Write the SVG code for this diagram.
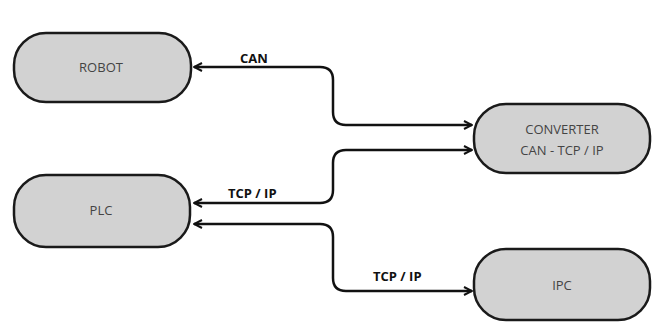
<svg xmlns="http://www.w3.org/2000/svg" width="660" height="332" viewBox="0 0 660 332">
<defs>
<marker id="ah" viewBox="0 0 10 10" refX="9" refY="5" markerWidth="10" markerHeight="10" markerUnits="userSpaceOnUse" orient="auto-start-reverse">
<path d="M1,1 L9,5 L1,9" fill="none" stroke="#111" stroke-width="2"/>
</marker>
<style>
.node rect{fill:#d2d2d2;stroke:#1a1a1a;stroke-width:2.5}
.node text{font-family:"Open Sans","Liberation Sans",sans-serif;font-size:13px;fill:#444;text-anchor:middle}
.conn path{fill:none;stroke:#111;stroke-width:2.5;marker-start:url(#ah);marker-end:url(#ah)}
.lbl{font-family:"Open Sans","Liberation Sans",sans-serif;font-size:13px;font-weight:bold;fill:#111}
</style>
</defs>
<rect width="660" height="332" fill="#fff"/>
<g id="robot" class="node"><rect x="14" y="33" width="177" height="69" rx="32"/><text x="101" y="72">ROBOT</text></g>
<g id="plc" class="node"><rect x="14" y="175" width="176" height="72" rx="32"/><text x="101" y="215">PLC</text></g>
<g id="converter" class="node"><rect x="474" y="104" width="176" height="69" rx="32"/><text x="562" y="134">CONVERTER</text><text x="562" y="155">CAN - TCP / IP</text></g>
<g id="ipc" class="node"><rect x="474" y="249" width="176" height="71" rx="32"/><text x="562" y="290">IPC</text></g>
<g id="connectors" class="conn">
<path d="M194,67 H320 Q333,67 333,80 V112 Q333,125 346,125 H472"/>
<path d="M194,203 H320 Q333,203 333,190 V163 Q333,150 346,150 H472"/>
<path d="M194,224 H320 Q333,224 333,237 V278 Q333,291 346,291 H472"/>
</g>
<g id="labels">
<text class="lbl" x="240" y="63">CAN</text>
<text class="lbl" x="228" y="198">TCP / IP</text>
<text class="lbl" x="373" y="281">TCP / IP</text>
</g>
</svg>
